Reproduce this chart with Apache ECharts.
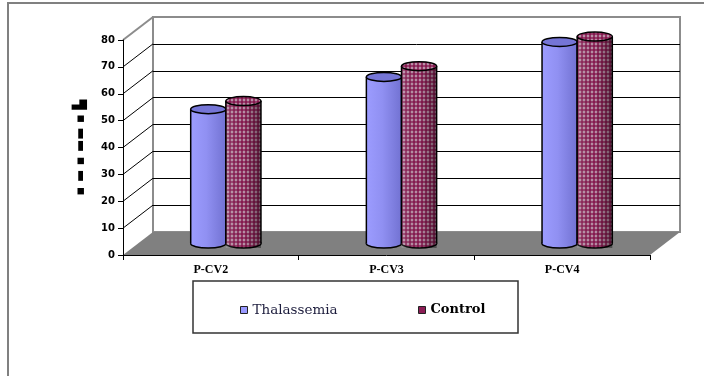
<!DOCTYPE html>
<html>
<head>
<meta charset="utf-8">
<script src="https://cdn.jsdelivr.net/npm/echarts@6/dist/echarts.min.js"></script>
<style>
  html, body { margin: 0; padding: 0; background: #fff; }
  #main { width: 704px; height: 376px; }
</style>
</head>
<body>
<div id="main"></div>
<script>
// chart data
const categories = ['P-CV2', 'P-CV3', 'P-CV4']
const thalassemia = [50, 62, 75]
const control = [53, 66, 77]
const yTicks = [0, 10, 20, 30, 40, 50, 60, 70, 80]
const yMin = 0
const yMax = 80
const yStep = 10

// fake 3d depth of the excel chart
const DX = 30
const DY = -23

const chartDom = document.getElementById('main')
const myChart = echarts.init(chartDom, null, { renderer: 'canvas' })

// maroon dots on light grey for the Control bars
const pat = document.createElement('canvas')
pat.width = 4
pat.height = 4
const pc = pat.getContext('2d')
pc.fillStyle = '#cfc3cc'
pc.fillRect(0, 0, 4, 4)
pc.fillStyle = '#861a50'
pc.beginPath(); pc.arc(2, 2, 1.95, 0, Math.PI * 2); pc.fill()
const dotPattern = { image: pat, repeat: 'repeat' }

function wallItem(params, api) {
  const v = api.value(1)
  const cs = params.coordSys
  const y = api.coord([0, v])[1]
  const x0 = cs.x
  if (v === yMin) {
    const x1 = cs.x + cs.width
    return {
      type: 'polygon',
      shape: { points: [[x0, y], [x0 + DX, y + DY], [x1 + DX, y + DY], [x1, y]] },
      style: { fill: '#808080' }
    }
  }
  return {
    type: 'line',
    shape: { x1: x0, y1: y, x2: x0 + DX, y2: y + DY },
    style: { stroke: v === yMax ? '#8c8c8c' : '#000', lineWidth: v === yMax ? 2 : 1 }
  }
}

function cylinder(offset, body, topFill, shade) {
  return function (params, api) {
    const idx = api.value(0)
    const base = api.coord([idx, 0])
    const top = api.coord([idx, api.value(1)])
    const band = api.size([1, 0])[0]
    const w = band * 0.2
    const cx = base[0] + offset * band
    const rx = w / 2
    const ry = 4.5
    const children = [
      { type: 'ellipse', shape: { cx: cx, cy: base[1], rx: rx, ry: ry }, style: { fill: body, stroke: '#000', lineWidth: 1.5 } },
      { type: 'rect', shape: { x: cx - rx, y: top[1], width: w, height: base[1] - top[1] }, style: { fill: body } }
    ]
    if (shade) {
      children.push({ type: 'rect', shape: { x: cx - rx, y: top[1], width: w, height: base[1] - top[1] + ry }, style: { fill: shade } })
    }
    children.push(
      { type: 'line', shape: { x1: cx - rx, y1: top[1], x2: cx - rx, y2: base[1] }, style: { stroke: '#000', lineWidth: 1.5 } },
      { type: 'line', shape: { x1: cx + rx, y1: top[1], x2: cx + rx, y2: base[1] }, style: { stroke: '#000', lineWidth: 1.5 } },
      { type: 'ellipse', shape: { cx: cx, cy: top[1], rx: rx, ry: ry }, style: { fill: topFill, stroke: '#000', lineWidth: 1.5 } }
    )
    return { type: 'group', children: children }
  }
}

const blueBody = new echarts.graphic.LinearGradient(0, 0, 1, 0, [
  { offset: 0, color: '#9c9cff' },
  { offset: 0.45, color: '#9090f2' },
  { offset: 1, color: '#7272d2' }
])
const ctrlShade = new echarts.graphic.LinearGradient(0, 0, 1, 0, [
  { offset: 0, color: 'rgba(255,255,255,0.15)' },
  { offset: 0.5, color: 'rgba(0,0,0,0)' },
  { offset: 1, color: 'rgba(0,0,0,0.4)' }
])

const hiddenCat = { type: 'category', data: categories, show: false }
const hiddenVal = { type: 'value', min: yMin, max: yMax, interval: yStep, show: false }

myChart.setOption({
  animation: false,
  backgroundColor: '#fff',
  grid: [
    // front axes
    { left: 123, top: 40, width: 527, height: 215, outerBoundsMode: 'none' },
    // back wall
    { left: 123 + DX, top: 40 + DY, width: 527, height: 215, outerBoundsMode: 'none',
      show: true, borderColor: '#8c8c8c', borderWidth: 2, backgroundColor: 'transparent' },
    // middle depth, where the bars stand
    { left: 123 + DX / 2, top: 40 + DY / 2, width: 527, height: 215, outerBoundsMode: 'none' }
  ],
  xAxis: [
    {
      type: 'category',
      data: categories,
      gridIndex: 0,
      z: 5,
      axisLine: { lineStyle: { color: '#000', width: 1 } },
      axisTick: { show: true, length: 5, lineStyle: { color: '#000' } },
      axisLabel: { margin: 9, color: '#000', fontFamily: 'Liberation Serif', fontWeight: 'bold', fontSize: 12 }
    },
    Object.assign({ gridIndex: 1 }, hiddenCat),
    Object.assign({ gridIndex: 2 }, hiddenCat)
  ],
  yAxis: [
    {
      type: 'value',
      gridIndex: 0,
      min: yMin,
      max: yMax,
      interval: yStep,
      z: 5,
      name: '▪ ▬ ▪ ▬▬ ▪ ▙',
      nameLocation: 'middle',
      nameRotate: 90,
      nameGap: 36,
      nameTextStyle: { color: '#000', fontFamily: 'DejaVu Sans', fontWeight: 'bold', fontSize: 13 },
      axisLine: { show: true, lineStyle: { color: '#000', width: 1 } },
      axisTick: { show: true, length: 5, lineStyle: { color: '#000' } },
      axisLabel: { margin: 8, color: '#000', fontFamily: 'DejaVu Sans', fontWeight: 'bold', fontSize: 10 },
      splitLine: { show: false }
    },
    {
      type: 'value',
      gridIndex: 1,
      min: yMin,
      max: yMax,
      interval: yStep,
      axisLine: { show: false },
      axisTick: { show: false },
      axisLabel: { show: false },
      splitLine: { show: true, showMinLine: false, showMaxLine: false, lineStyle: { color: '#000', width: 1 } }
    },
    Object.assign({ gridIndex: 2 }, hiddenVal)
  ],
  legend: [
    {
      data: ['Thalassemia'],
      left: 235,
      top: 298,
      icon: 'rect',
      itemWidth: 7,
      itemHeight: 7,
      itemStyle: { borderColor: '#222', borderWidth: 1 },
      textStyle: { color: '#1c1c3c', fontFamily: 'DejaVu Serif', fontSize: 13.5, lineHeight: 14 }
    },
    {
      data: ['Control'],
      left: 413,
      top: 298,
      icon: 'rect',
      itemWidth: 7,
      itemHeight: 7,
      itemStyle: { borderColor: '#222', borderWidth: 1 },
      textStyle: { color: '#000', fontFamily: 'DejaVu Serif', fontWeight: 'bold', fontSize: 13, lineHeight: 14 }
    }
  ],
  graphic: [
    // outer frame
    { type: 'polyline', shape: { points: [[8, 376], [8, 3], [704, 3]] }, style: { stroke: '#808080', lineWidth: 2, fill: null }, silent: true },
    // legend box
    { type: 'rect', shape: { x: 193, y: 281, width: 325, height: 52 }, style: { stroke: '#333', lineWidth: 1.5, fill: null }, silent: true }
  ],
  series: [
    {
      name: 'walls',
      type: 'custom',
      xAxisIndex: 0,
      yAxisIndex: 0,
      z: 1,
      silent: true,
      renderItem: wallItem,
      data: yTicks.map(function (v) { return [0, v] })
    },
    {
      name: 'Thalassemia',
      type: 'custom',
      xAxisIndex: 2,
      yAxisIndex: 2,
      itemStyle: { color: '#9999ff' },
      renderItem: cylinder(-0.1, blueBody, '#7575d6', null),
      data: thalassemia.map(function (v, i) { return [i, v] })
    },
    {
      name: 'Control',
      type: 'custom',
      xAxisIndex: 2,
      yAxisIndex: 2,
      itemStyle: { color: '#8c1d55' },
      renderItem: cylinder(0.1, dotPattern, dotPattern, ctrlShade),
      data: control.map(function (v, i) { return [i, v] })
    }
  ]
})
</script>
</body>
</html>
